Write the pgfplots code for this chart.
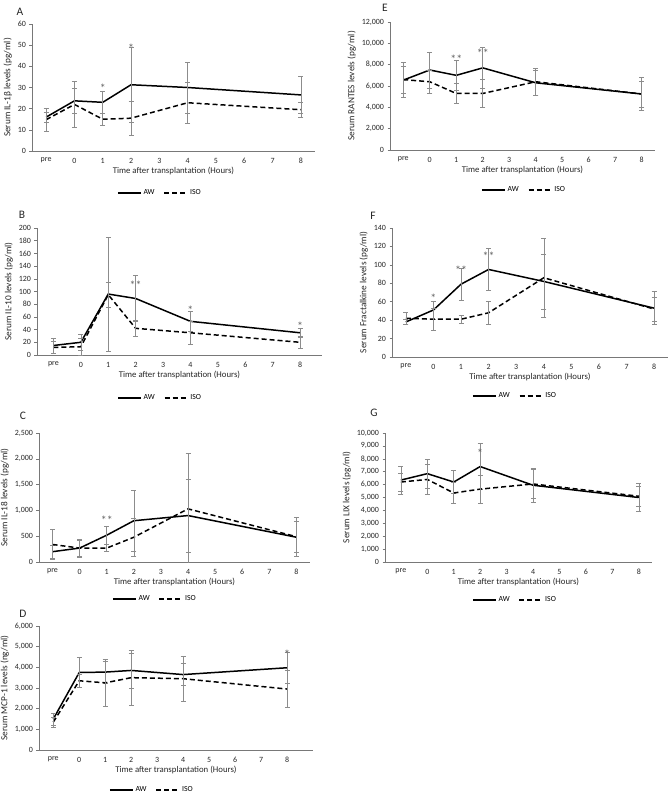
\documentclass[border=0pt]{standalone}
\usepackage{fontspec}
\setmainfont{Carlito}
\usepackage{pgfplots}
\pgfplotsset{compat=1.18}
\definecolor{ebar}{RGB}{140,140,140}
\definecolor{axgray}{RGB}{120,120,120}
\definecolor{stargray}{RGB}{100,100,100}
\pgfplotsset{
  panel/.style={
    scale only axis, anchor=north west,
    axis x line*=bottom, axis y line*=left,
    axis line style={draw=axgray, line width=0.5pt, -},
    xmin=-1.5, xmax=8.5, ymin=0,
    xtick={-1,0,1,2,3,4,5,6,7,8},
    xticklabels={pre,0,1,2,3,4,5,6,7,8},
    major x tick style={draw=none},
    major y tick style={draw=axgray, line width=0.5pt},
    tick align=outside, major tick length=2.5bp,
    /pgf/number format/assume math mode=true,
    /pgf/number format/1000 sep={,},
    scaled y ticks=false,
    tick label style={font=\fontsize{8}{9}\selectfont, text=black!85},
    xticklabel style={yshift=-1bp},
    xlabel style={font=\fontsize{8.8}{9}\selectfont, text=black!85, yshift=3bp},
    ylabel style={font=\fontsize{9.3}{10}\selectfont, text=black!85, yshift=-1bp},
    xlabel={Time after transplantation (Hours)},
    legend columns=2,
    legend style={draw=none, fill=none, anchor=center,
      font=\fontsize{7.8}{8}\selectfont, /tikz/every even column/.append style={column sep=7bp}},
    legend image code/.code={\draw[##1] (0bp,0bp) -- (23bp,0bp);},
  },
  aw/.style={black, line width=1.5pt, no marks,
    error bars/.cd, y dir=both, y explicit,
    error bar style={draw=ebar, line width=0.55pt, solid},
    error mark options={rotate=90, mark size=2.5bp, draw=ebar, line width=0.55pt, solid}},
  iso/.style={black, line width=1.5pt, dash pattern=on 5bp off 3bp, no marks,
    error bars/.cd, y dir=both, y explicit,
    error bar style={draw=ebar, line width=0.55pt, solid},
    error mark options={rotate=90, mark size=2.5bp, draw=ebar, line width=0.55pt, solid}},
}
\newcommand{\st}[2]{\node[text=stargray, font=\fontsize{12}{12}\selectfont, inner sep=0pt] at (axis cs:#1) {#2};}
\begin{document}
\begin{tikzpicture}
\path[use as bounding box] (0bp,0bp) rectangle (668bp,-795bp);
\tikzset{lab/.style={font=\fontsize{11.5}{12}\selectfont, text=black!85}}
\node[lab] at (20bp,-12bp) {A};
\node[lab] at (22bp,-215bp) {B};
\node[lab] at (23bp,-416bp) {C};
\node[lab] at (23bp,-614bp) {D};
\node[lab] at (385bp,-8bp) {E};
\node[lab] at (373bp,-216bp) {F};
\node[lab] at (374bp,-413bp) {G};

% ---------- A ----------
\begin{axis}[panel, at={(32bp,-24bp)}, width=283bp, height=127bp,
  ymax=60, ytick={0,10,...,60}, ylabel={Serum IL-1β levels (pg/ml)},
  legend style={at={(0.452,-0.331)}}]
\addplot[aw] coordinates {(-1,16) +- (0,2.3) (0,23.7) +- (0,6) (1,23) +- (0,5) (2,31.3) +- (0,17.7) (4,30) +- (0,12) (8,26.5) +- (0,8.8)};
\addplot[iso] coordinates {(-1,14.8) +- (0,5.5) (0,22) +- (0,11) (1,15) +- (0,3) (2,15.5) +- (0,8) (4,22.8) +- (0,9.7) (8,19.5) +- (0,3.5)};
\legend{AW,ISO}
\st{1,29.5}{*}
\st{2,48.5}{*}
\end{axis}

% ---------- B ----------
\begin{axis}[panel, at={(37bp,-228bp)}, width=285bp, height=127bp,
  xmin=-1.6, xmax=8.8,
  ymax=200, ytick={0,20,...,200}, ylabel={Serum IL-10 levels (pg/ml)},
  legend style={at={(0.432,-0.339)}}]
\addplot[aw] coordinates {(-1,15) +- (0,12) (0,20) +- (0,13) (1,96) +- (0,90) (2,89) +- (0,36) (4,53) +- (0,16) (8,35) +- (0,7)};
\addplot[iso] coordinates {(-1,12) +- (0,9) (0,13) +- (0,13) (1,95) +- (0,20) (2,42) +- (0,12) (4,35) +- (0,18) (8,20) +- (0,10)};
\legend{AW,ISO}
\st{2,110}{**}
\st{4,71}{*}
\st{8,45}{*}
\end{axis}

% ---------- C ----------
\begin{axis}[panel, at={(39bp,-433bp)}, width=271bp, height=129bp,
  ymax=2500, ytick={0,500,...,2500}, ylabel={Serum IL-18 levels (pg/ml)},
  legend style={at={(0.428,-0.287)}}]
\addplot[aw] coordinates {(-1,200) +- (0,120) (0,270) +- (0,170) (1,520) +- (0,180) (2,800) +- (0,590) (4,900) +- (0,710) (8,480) +- (0,300)};
\addplot[iso] coordinates {(-1,340) +- (0,290) (0,270) +- (0,160) (1,270) +- (0,70) (2,480) +- (0,370) (4,1030) +- (0,1070) (8,490) +- (0,380)};
\legend{AW,ISO}
\st{1,800}{**}
\end{axis}

% ---------- D ----------
\begin{axis}[panel, at={(39bp,-626bp)}, width=274bp, height=124bp,
  xmin=-1.55, xmax=9.0,
  ymax=6000, ytick={0,1000,...,6000}, ylabel={Serum MCP-1 levels (ng/ml)},
  legend style={at={(0.412,-0.323)}}]
\addplot[aw] coordinates {(-1,1500) +- (0,300) (0,3750) +- (0,720) (1,3770) +- (0,530) (2,3850) +- (0,850) (4,3650) +- (0,530) (8,3980) +- (0,740)};
\addplot[iso] coordinates {(-1,1350) +- (0,250) (0,3350) +- (0,300) (1,3250) +- (0,1150) (2,3500) +- (0,1350) (4,3450) +- (0,1100) (8,2950) +- (0,900)};
\legend{AW,ISO}
\st{8,4650}{*}
\end{axis}

% ---------- E ----------
\begin{axis}[panel, at={(390bp,-22bp)}, width=265bp, height=128bp,
  ymax=12000, ytick={0,2000,...,12000}, ylabel={Serum RANTES levels (pg/ml)},
  legend style={at={(0.506,-0.313)}}]
\addplot[aw] coordinates {(-1,6550) +- (0,1650) (0,7500) +- (0,1700) (1,7000) +- (0,1400) (2,7700) +- (0,1950) (4,6300) +- (0,1200) (8,5250) +- (0,1550)};
\addplot[iso] coordinates {(-1,6600) +- (0,1250) (0,6400) +- (0,1100) (1,5300) +- (0,950) (2,5300) +- (0,1300) (4,6400) +- (0,1300) (8,5250) +- (0,1200)};
\legend{AW,ISO}
\st{1,8500}{**}
\st{2,9100}{**}
\end{axis}

% ---------- F ----------
\begin{axis}[panel, at={(392bp,-228bp)}, width=276bp, height=129bp,
  ymax=140, ytick={0,20,...,140}, ylabel={Serum Fractalkine levels (pg/ml)},
  legend style={at={(0.446,-0.302)}}]
\addplot[aw] coordinates {(-1,38) +- (0,3) (0,51) +- (0,10) (1,79) +- (0,17) (2,95) +- (0,23) (4,82) +- (0,30) (8,53) +- (0,18)};
\addplot[iso] coordinates {(-1,42) +- (0,7) (0,41) +- (0,12) (1,41) +- (0,4.5) (2,48) +- (0,13) (4,86) +- (0,43) (8,52) +- (0,13)};
\legend{AW,ISO}
\st{0,64}{*}
\st{1,94}{**}
\st{2,109}{**}
\end{axis}

% ---------- G ----------
\begin{axis}[panel, at={(385bp,-433bp)}, width=267bp, height=129bp,
  xmin=-1.6, xmax=8.5,
  ymax=10000, ytick={0,1000,...,10000}, ylabel={Serum LIX levels (pg/ml)},
  legend style={at={(0.487,-0.295)}}]
\addplot[aw] coordinates {(-1,6350) +- (0,1100) (0,6850) +- (0,1150) (1,6200) +- (0,900) (2,7400) +- (0,1800) (4,5950) +- (0,1300) (8,5000) +- (0,1100)};
\addplot[iso] coordinates {(-1,6200) +- (0,700) (0,6400) +- (0,1150) (1,5350) +- (0,800) (2,5650) +- (0,1100) (4,6050) +- (0,1100) (8,5100) +- (0,800)};
\legend{AW,ISO}
\st{2,8400}{*}
\end{axis}
\end{tikzpicture}
\end{document}
